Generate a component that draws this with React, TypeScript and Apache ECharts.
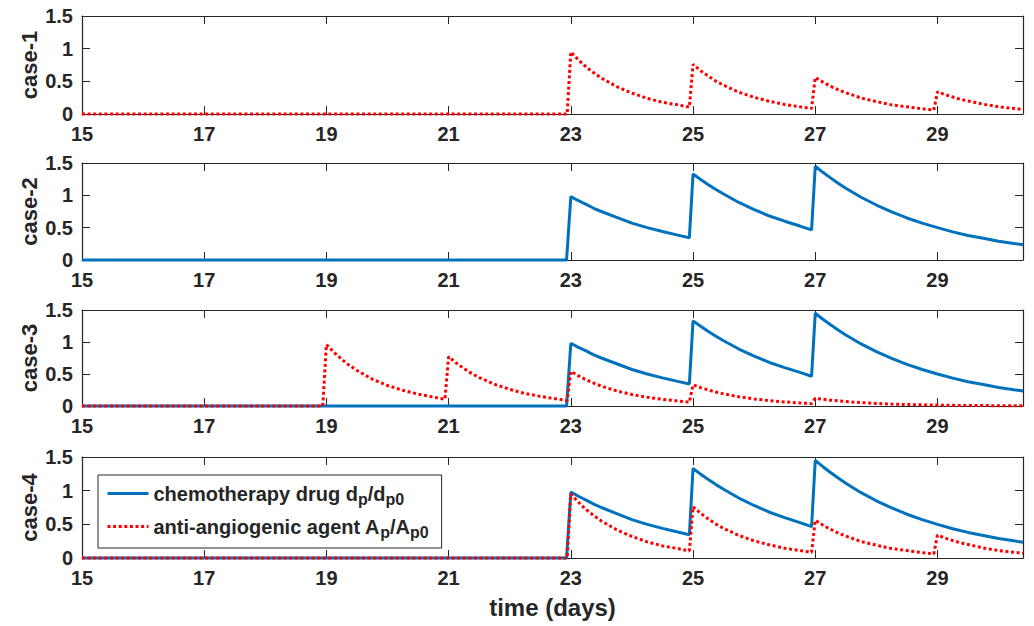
import React, { useEffect, useRef } from "react";
import * as echarts from "echarts";

// ---------- data ----------
const xMin = 15;
const xMax = 30.4;
const xInterval = 2;
const yMin = 0;
const yMax = 1.5;
const yInterval = 0.5;

const caseLabels = ["case-1", "case-2", "case-3", "case-4"];
const xAxisTitle = "time (days)";
const chemoName = "chemotherapy drug";
const agentName = "anti-angiogenic agent";

// chemotherapy drug d_p/d_p0 (same in cases 2, 3, 4)
const chemoCurve: [number, number][] = [
  [15, 0], [22.93, 0], [23, 0.98], [23.125, 0.917], [23.25, 0.86], [23.375, 0.8], [23.5, 0.75],
  [23.75, 0.66], [24, 0.57], [24.25, 0.5], [24.5, 0.44], [24.75, 0.385], [24.94, 0.345],
  [25, 1.33], [25.125, 1.245], [25.25, 1.165], [25.375, 1.09], [25.5, 1.02], [25.75, 0.89],
  [26, 0.78], [26.25, 0.68], [26.5, 0.6], [26.75, 0.525], [26.94, 0.465],
  [27, 1.45], [27.125, 1.356], [27.25, 1.27], [27.375, 1.187], [27.5, 1.11], [27.75, 0.97],
  [28, 0.85], [28.25, 0.745], [28.5, 0.65], [28.75, 0.57], [29, 0.5], [29.25, 0.435],
  [29.5, 0.38], [29.75, 0.335], [30, 0.29], [30.25, 0.255], [30.4, 0.235],
];

// anti-angiogenic agent A_p/A_p0, doses from day 23 (cases 1 and 4)
const agentLateCurve: [number, number][] = [
  [15, 0], [22.94, 0], [23, 0.95], [23.125, 0.828], [23.25, 0.72], [23.375, 0.63], [23.5, 0.55],
  [23.75, 0.42], [24, 0.32], [24.25, 0.24], [24.5, 0.18], [24.75, 0.14], [24.94, 0.105],
  [25, 0.76], [25.125, 0.662], [25.25, 0.58], [25.375, 0.503], [25.5, 0.44], [25.75, 0.335],
  [26, 0.255], [26.25, 0.195], [26.5, 0.145], [26.75, 0.11], [26.94, 0.085],
  [27, 0.56], [27.125, 0.488], [27.25, 0.425], [27.375, 0.371], [27.5, 0.325], [27.75, 0.245],
  [28, 0.19], [28.25, 0.14], [28.5, 0.11], [28.75, 0.08], [28.94, 0.06],
  [29, 0.34], [29.125, 0.296], [29.25, 0.26], [29.375, 0.225], [29.5, 0.2], [29.75, 0.15],
  [30, 0.11], [30.25, 0.085], [30.4, 0.07],
];

// anti-angiogenic agent A_p/A_p0, doses from day 19 (case 3)
const agentEarlyCurve: [number, number][] = [
  [15, 0], [18.94, 0], [19, 0.96], [19.125, 0.837], [19.25, 0.73], [19.375, 0.635], [19.5, 0.555],
  [19.75, 0.42], [20, 0.32], [20.25, 0.245], [20.5, 0.185], [20.75, 0.14], [20.94, 0.105],
  [21, 0.77], [21.125, 0.671], [21.25, 0.585], [21.375, 0.51], [21.5, 0.445], [21.75, 0.34],
  [22, 0.26], [22.25, 0.195], [22.5, 0.15], [22.75, 0.113], [22.94, 0.085],
  [23, 0.54], [23.125, 0.47], [23.25, 0.41], [23.375, 0.357], [23.5, 0.31], [23.75, 0.237],
  [24, 0.18], [24.25, 0.137], [24.5, 0.104], [24.75, 0.079], [24.94, 0.06],
  [25, 0.33], [25.125, 0.288], [25.25, 0.25], [25.375, 0.218], [25.5, 0.19], [25.75, 0.145],
  [26, 0.11], [26.25, 0.084], [26.5, 0.064], [26.75, 0.048], [26.94, 0.037],
  [27, 0.12], [27.25, 0.09], [27.5, 0.07], [27.75, 0.053], [28, 0.04], [28.25, 0.03],
  [28.5, 0.023], [28.75, 0.018], [29, 0.013], [29.5, 0.008], [30, 0.005], [30.4, 0.003],
];

const panelSeries: { chemo?: [number, number][]; agent?: [number, number][] }[] = [
  { agent: agentLateCurve },
  { chemo: chemoCurve },
  { chemo: chemoCurve, agent: agentEarlyCurve },
  { chemo: chemoCurve, agent: agentLateCurve },
];

// ---------- style ----------
const FONT = "'Liberation Sans', Arial, Helvetica, sans-serif";
const INK = "#262626";
const BLUE = "#0072BD";
const RED = "#FF0000";
const panelTops = [16, 163, 310, 457];
const panelBottoms = [114, 260, 406, 558];
const gridLeft = 82;
const gridRight = 11;

function buildOption(): any {
  const grid: any[] = [];
  const xAxis: any[] = [];
  const yAxis: any[] = [];
  const series: any[] = [];

  const tickStyle = { inside: true, length: 8, lineStyle: { color: INK, width: 1 } };
  const lineStyle = { lineStyle: { color: INK, width: 1.2 } };
  const labelStyle = {
    color: INK,
    fontFamily: FONT,
    fontWeight: "bold",
    fontSize: 20,
  };

  panelTops.forEach((top, i) => {
    grid.push({
      left: gridLeft,
      right: gridRight,
      top,
      height: panelBottoms[i] - top,
      outerBoundsMode: "none",
      containLabel: false,
    });
    const last = i === panelTops.length - 1;
    xAxis.push({
      type: "value",
      gridIndex: i,
      position: "bottom",
      min: xMin,
      max: xMax,
      interval: xInterval,
      axisLine: { show: true, onZero: false, ...lineStyle },
      axisTick: tickStyle,
      splitLine: { show: false },
      axisLabel: { ...labelStyle, margin: 10, showMaxLabel: false, hideOverlap: false },
      name: last ? xAxisTitle : "",
      nameLocation: "middle",
      nameGap: 37,
      nameMoveOverlap: false,
      nameTextStyle: { color: INK, fontFamily: FONT, fontWeight: "bold", fontSize: 24 },
    });
    xAxis.push({
      type: "value",
      gridIndex: i,
      position: "top",
      min: xMin,
      max: xMax,
      interval: xInterval,
      axisLine: { show: true, onZero: false, ...lineStyle },
      axisTick: tickStyle,
      splitLine: { show: false },
      axisLabel: { show: false },
    });
    yAxis.push({
      type: "value",
      gridIndex: i,
      position: "left",
      min: yMin,
      max: yMax,
      interval: yInterval,
      axisLine: { show: true, onZero: false, ...lineStyle },
      axisTick: tickStyle,
      splitLine: { show: false },
      axisLabel: { ...labelStyle, margin: 9, hideOverlap: false },
      name: caseLabels[i],
      nameLocation: "middle",
      nameRotate: 90,
      nameGap: 42,
      nameMoveOverlap: false,
      nameTextStyle: { color: INK, fontFamily: FONT, fontWeight: "bold", fontSize: 22 },
    });
    yAxis.push({
      type: "value",
      gridIndex: i,
      position: "right",
      min: yMin,
      max: yMax,
      interval: yInterval,
      axisLine: { show: true, onZero: false, ...lineStyle },
      axisTick: tickStyle,
      splitLine: { show: false },
      axisLabel: { show: false },
    });

    const p = panelSeries[i];
    if (p.chemo) {
      series.push({
        type: "line",
        name: chemoName,
        xAxisIndex: i * 2,
        yAxisIndex: i * 2,
        data: p.chemo,
        showSymbol: false,
        symbol: "none",
        clip: false,
        z: 3,
        lineStyle: { color: BLUE, width: 3 },
        itemStyle: { color: BLUE },
      });
    }
    if (p.agent) {
      series.push({
        type: "line",
        name: agentName,
        xAxisIndex: i * 2,
        yAxisIndex: i * 2,
        data: p.agent,
        showSymbol: false,
        symbol: "none",
        clip: false,
        z: 4,
        lineStyle: { color: RED, width: 3, type: [3, 2.6], cap: "butt" },
        itemStyle: { color: RED },
      });
    }
  });

  const legendText = {
    color: INK,
    fontFamily: FONT,
    fontWeight: "bold",
    fontSize: 20,
    lineHeight: 22,
  };
  const subText = {
    color: INK,
    fontFamily: FONT,
    fontWeight: "bold",
    fontSize: 16,
    lineHeight: 16,
    padding: [11, 0, 0, 0],
  };

  return {
    animation: false,
    backgroundColor: "#ffffff",
    grid,
    xAxis,
    yAxis,
    series,
    legend: {
      show: true,
      data: [chemoName, agentName],
      orient: "vertical",
      left: 98,
      top: 475,
      padding: [5, 13, 8, 8],
      itemGap: 6,
      itemWidth: 41,
      itemHeight: 14,
      backgroundColor: "#ffffff",
      borderColor: INK,
      borderWidth: 1,
      borderRadius: 0,
      itemStyle: { opacity: 0 },
      lineStyle: { width: 3 },
      textStyle: {
        ...legendText,
        rich: { b: legendText, s: subText },
      },
      formatter: (name: string) =>
        name === chemoName
          ? "{b|chemotherapy drug d}{s|p}{b|/d}{s|p0}"
          : "{b|anti-angiogenic agent A}{s|p}{b|/A}{s|p0}",
      selectedMode: false,
    },
  };
}

export default function App() {
  const ref = useRef<HTMLDivElement>(null);
  useEffect(() => {
    if (!ref.current) return;
    const chart = echarts.init(ref.current, undefined, { renderer: "svg" });
    chart.setOption(buildOption());
    return () => chart.dispose();
  }, []);
  return (
    <div
      ref={ref}
      style={{ position: "absolute", left: 0, top: 0, width: 1034, height: 626, background: "#fff" }}
    />
  );
}
